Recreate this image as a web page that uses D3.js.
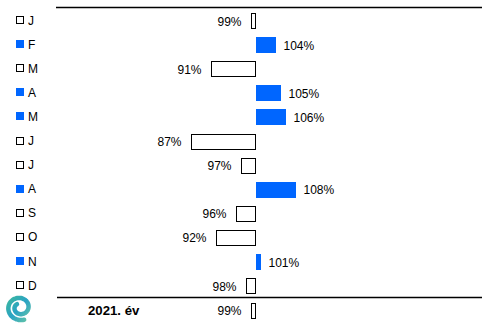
<!DOCTYPE html>
<html><head><meta charset="utf-8">
<script src="https://cdn.jsdelivr.net/npm/d3@7"></script>
<style>html,body{margin:0;padding:0;background:#fff}svg{display:block}</style>
</head><body><svg id="c" width="496" height="323"></svg>
<script>
const months = ["J","F","M","A","M","J","J","A","S","O","N","D"];
const values = [99,104,91,105,106,87,97,108,96,92,101,98];
const totalLabel = "2021. év";
const totalValue = 99;

const svg = d3.select("#c");
const font = "'Liberation Sans', Arial, sans-serif";
const blue = "#0066ff";

const x = d3.scaleLinear().domain([80,120]).range([155.5,355.5]);
const y = d3.scaleBand().domain(d3.range(months.length)).range([9,298.2]).paddingInner(0.336).paddingOuter(0.168);
const bh = 16;

// lines
svg.append("line").attr("x1",56).attr("x2",482).attr("y1",7.5).attr("y2",7.5).attr("stroke","#000").attr("stroke-width",1.5);
svg.append("line").attr("x1",57).attr("x2",482).attr("y1",297.5).attr("y2",297.5).attr("stroke","#000").attr("stroke-width",1.3);

function drawBar(v, cy){
  const x0 = x(100), x1 = x(v);
  const up = v > 100;
  const left = Math.min(x0,x1), w = Math.abs(x1-x0);
  const top = Math.round(cy - bh/2);
  if(up){
    svg.append("rect").attr("x",Math.round(left)).attr("y",top).attr("width",Math.round(w)).attr("height",bh).attr("fill",blue);
    svg.append("text").attr("x",x1+8).attr("y",cy+4.5).attr("font-family",font).attr("font-size",12).attr("fill","#000").text(v+"%");
  } else {
    svg.append("rect").attr("x",Math.round(left)+0.5).attr("y",top+0.5).attr("width",Math.max(Math.round(w)-1,3)).attr("height",bh-1).attr("fill","#fff").attr("stroke","#000").attr("stroke-width",1);
    svg.append("text").attr("x",x1-9).attr("y",cy+4.5).attr("text-anchor","end").attr("font-family",font).attr("font-size",12).attr("fill","#000").text(v+"%");
  }
}

values.forEach((v,i)=>{
  const cy = y(i) + y.bandwidth()/2;
  drawBar(v, cy);
  const ly = cy - 1;
  if(v>100){
    svg.append("rect").attr("x",16).attr("y",Math.round(ly-4)).attr("width",8).attr("height",8).attr("fill",blue);
  } else {
    svg.append("rect").attr("x",16.5).attr("y",Math.round(ly-4)+0.5).attr("width",7).attr("height",7).attr("fill","#fff").attr("stroke","#000");
  }
  svg.append("text").attr("x",28).attr("y",ly+4.5).attr("font-family",font).attr("font-size",12).attr("fill","#000").text(months[i]);
});

// total row
const ty = 310.5;
drawBar(totalValue, ty);
svg.append("text").attr("x",88).attr("y",ty+4.5).attr("font-family",font).attr("font-size",13.2).attr("font-weight","bold").attr("fill","#000").text(totalLabel);

// logo spiral
const defs = svg.append("defs");
const g = defs.append("linearGradient").attr("id","lg").attr("x1","0").attr("y1","0").attr("x2","1").attr("y2","1");
g.append("stop").attr("offset","0").attr("stop-color","#3bb6a0");
g.append("stop").attr("offset","0.5").attr("stop-color","#2aa3c4");
g.append("stop").attr("offset","1").attr("stop-color","#62c3a8");
const pts = [];
const cx = 20, cyL = 307.5;
for(let t=0;t<=1;t+=0.01){
  const ang = -Math.PI*0.6 + t*Math.PI*2.9;
  const r = 13.5 - t*9;
  pts.push([cx + r*Math.cos(ang+Math.PI), cyL + r*Math.sin(ang+Math.PI)*0.95]);
}
svg.append("path").attr("d",d3.line().curve(d3.curveBasis)(pts)).attr("fill","none").attr("stroke","url(#lg)").attr("stroke-width",4.5).attr("stroke-linecap","round");
</script></body></html>
